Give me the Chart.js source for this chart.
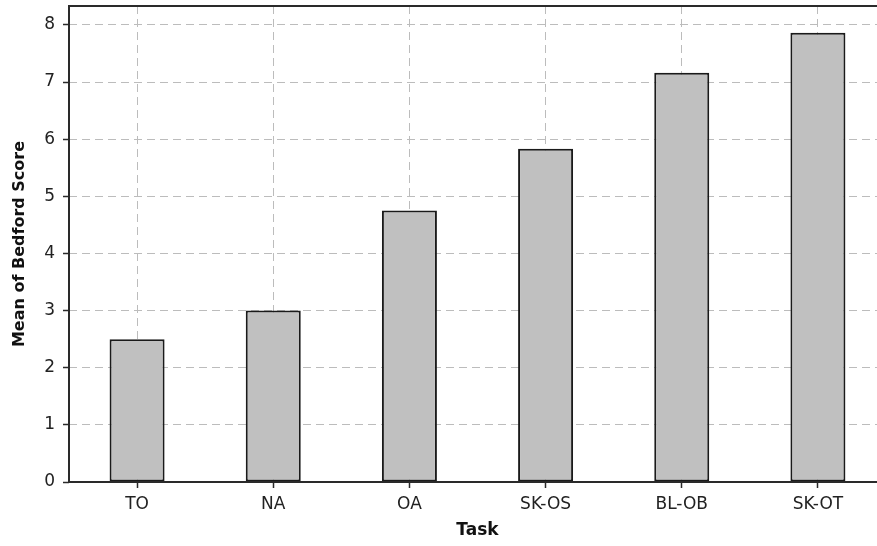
<!DOCTYPE html>
<html>
<head>
<meta charset="utf-8">
<script src="https://cdn.jsdelivr.net/npm/chart.js@4/dist/chart.umd.min.js"></script>
<style>
  html, body { margin: 0; padding: 0; background: #ffffff; overflow: hidden; width: 877px; height: 546px; }
  #wrap { position: relative; width: 877px; height: 546px; overflow: hidden; }
  canvas { display: block; }
</style>
</head>
<body>
<div id="wrap"><canvas id="c" width="886" height="546"></canvas></div>
<script>
const categories = ["TO", "NA", "OA", "SK-OS", "BL-OB", "SK-OT"];
const meanScores = [2.5, 3.0, 4.75, 5.83, 7.16, 7.86];
const yTicks = [0, 1, 2, 3, 4, 5, 6, 7, 8];
const xTitle = "Task";
const yTitle = "Mean of Bedford Score";

const frame = {
  id: 'frame',
  afterDatasetsDraw(chart) {
    const a = chart.chartArea, ctx = chart.ctx;
    ctx.save();
    ctx.strokeStyle = '#2a2a2a';
    ctx.lineWidth = 2;
    ctx.beginPath();
    ctx.moveTo(a.left, a.top);
    ctx.lineTo(a.right + 10, a.top);
    ctx.moveTo(a.left, a.top - 1);
    ctx.lineTo(a.left, a.bottom);
    ctx.lineTo(a.right + 10, a.bottom);
    ctx.stroke();
    ctx.restore();
  }
};

const gridColor = (ctx) => (ctx.tick && ctx.tick.value === 0 && ctx.scale.axis === 'y') ? 'rgba(0,0,0,0)' : '#bcbcbc';

new Chart(document.getElementById('c'), {
  type: 'bar',
  data: {
    labels: categories,
    datasets: [{
      data: meanScores,
      backgroundColor: '#c0c0c0',
      borderColor: '#1a1a1a',
      borderWidth: 2,
      borderSkipped: false,
      categoryPercentage: 0.8,
      barPercentage: 0.505
    }]
  },
  options: {
    responsive: false,
    animation: false,
    devicePixelRatio: 1,
    layout: { padding: { top: 6, right: 0, left: 0, bottom: 0 } },
    plugins: { legend: { display: false }, tooltip: { enabled: false } },
    scales: {
      x: {
        offset: true,
        grid: { offset: false, color: gridColor, lineWidth: 1, drawTicks: true, tickLength: 6, tickColor: '#2a2a2a', tickWidth: 1.5 },
        border: { display: false, dash: [8, 5] },
        ticks: { color: '#222222', font: { family: 'DejaVu Sans', size: 17 }, padding: 6, maxRotation: 0 },
        title: { display: true, text: xTitle, color: '#111111', font: { family: 'DejaVu Sans', size: 17, weight: 'bold' }, padding: { top: 0, bottom: 5 } },
        afterFit(s) { s.height = 64; s.paddingLeft = 0; s.paddingRight = 0; }
      },
      y: {
        min: 0,
        max: 8.33,
        afterBuildTicks(s) { s.ticks = yTicks.map(v => ({ value: v })); },
        grid: { color: gridColor, lineWidth: 1, drawTicks: true, tickLength: 6, tickColor: '#2a2a2a', tickWidth: 1.5 },
        border: { display: false, dash: [8, 5] },
        ticks: { color: '#222222', font: { family: 'DejaVu Sans', size: 17 }, padding: 8 },
        title: { display: true, text: yTitle, color: '#111111', font: { family: 'DejaVu Sans', size: 16, weight: 'bold' }, padding: { top: 10, bottom: 4 } },
        afterFit(s) { s.width = 69; s.paddingTop = 0; s.paddingBottom = 0; }
      }
    }
  },
  plugins: [frame]
});
</script>
</body>
</html>
